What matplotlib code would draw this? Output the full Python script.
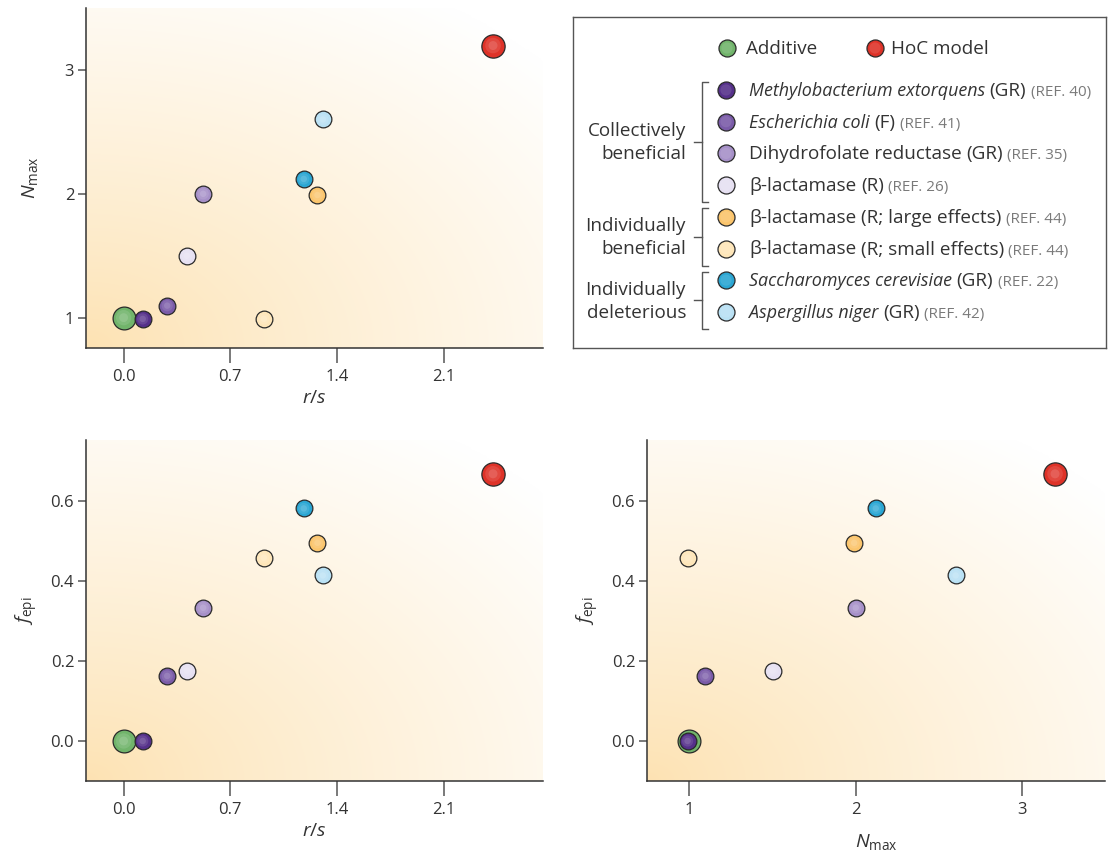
import numpy as np
import matplotlib.pyplot as plt
import matplotlib.colors as mcolors

plt.rcParams['font.family'] = ['Open Sans', 'DejaVu Sans']
plt.rcParams['mathtext.fontset'] = 'custom'
plt.rcParams['mathtext.rm'] = 'Open Sans'
plt.rcParams['mathtext.it'] = 'Open Sans:italic'

# data
species = ['Methylobacterium extorquens', 'Escherichia coli', 'Dihydrofolate reductase',
           'β-lactamase', 'β-lactamase', 'β-lactamase',
           'Saccharomyces cerevisiae', 'Aspergillus niger']
species_italic = [True, True, False, False, False, False, True, True]
conditions = ['(GR)', '(F)', '(GR)', '(R)', '(R; large effects)', '(R; small effects)', '(GR)', '(GR)']
refs = ['(REF. 40)', '(REF. 41)', '(REF. 35)', '(REF. 26)', '(REF. 44)', '(REF. 44)', '(REF. 22)', '(REF. 42)']
colors = ['#55308a', '#7a5ba8', '#a690c8', '#e6e0f2', '#fbc56c', '#fee6b9', '#2aa6d3', '#b9e1f4']

r_s = [0.125, 0.286, 0.522, 0.415, 1.272, 0.920, 1.182, 1.307]
n_max = [0.99, 1.097, 2.0, 1.5, 1.99, 0.99, 2.12, 2.6]
f_epi = [0.0, 0.1625, 0.333, 0.176, 0.495, 0.458, 0.581, 0.4135]

additive = {'r_s': 0.0, 'n_max': 1.0, 'f_epi': 0.0, 'color': '#71b46b'}
hoc = {'r_s': 2.424, 'n_max': 3.197, 'f_epi': 0.6675, 'color': '#de3228'}

groups = [('Collectively', 'beneficial', 0, 3),
          ('Individually', 'beneficial', 4, 5),
          ('Individually', 'deleterious', 6, 7)]

W, H = 1112, 852
fig = plt.figure(figsize=(W / 100, H / 100), dpi=100)
corner = np.array([253, 226, 178]) / 255.0


def px_axes(x0, y0, x1, y1):
    # pixel box (top-left origin) -> figure axes
    return fig.add_axes([x0 / W, 1 - y1 / H, (x1 - x0) / W, (y1 - y0) / H])


def shade_panel(ax):
    gx, gy = np.meshgrid(np.linspace(0, 1, 300), np.linspace(0, 1, 300))
    d = np.sqrt((gx * 0.95) ** 2 + (gy * 1.05) ** 2)
    t = np.clip(d / 1.3, 0, 1) ** 0.85
    img = corner[None, None, :] * (1 - t[..., None]) + t[..., None]
    ax.imshow(img, extent=(0, 1, 0, 1), transform=ax.transAxes, origin='lower',
              aspect='auto', zorder=0, interpolation='bilinear')


def mix(c, amount):
    c = np.array(mcolors.to_rgb(c))
    return tuple(c + (1 - c) * amount)


def dot(ax, x, y, color, size, z):
    ax.scatter([x], [y], s=size, color=color, edgecolors='#2a2a2a', linewidths=0.9, zorder=z)
    ax.scatter([x], [y], s=size * 0.45, color=mix(color, 0.18), alpha=0.6,
               edgecolors='none', zorder=z + 0.1)
    ax.scatter([x], [y], s=size * 0.15, color=mix(color, 0.3), alpha=0.6,
               edgecolors='none', zorder=z + 0.2)


def style_panel(ax, xlim, ylim, xticks, yticks, xfmt, yfmt):
    shade_panel(ax)
    for s in ['top', 'right']:
        ax.spines[s].set_visible(False)
    for s in ['left', 'bottom']:
        ax.spines[s].set_color('#333333')
        ax.spines[s].set_linewidth(1.1)
    ax.set_xticks(xticks)
    ax.set_yticks(yticks)
    ax.set_xticklabels([xfmt.format(v) for v in xticks])
    ax.set_yticklabels([yfmt.format(v) for v in yticks])
    ax.tick_params(axis='x', length=11, width=1.1, color='#555555', labelsize=12,
                   pad=4, labelcolor='#333333')
    ax.tick_params(axis='y', length=5.5, width=1.1, color='#555555', labelsize=12,
                   pad=3, labelcolor='#333333')
    ax.set_xlim(*xlim)
    ax.set_ylim(*ylim)


def plot_panel(ax, xs, ys, ax_key_x, ax_key_y):
    dot(ax, additive[ax_key_x], additive[ax_key_y], additive['color'], 270, 3)
    for i in range(len(xs)):
        dot(ax, xs[i], ys[i], colors[i], 145, 4 + i)
    dot(ax, hoc[ax_key_x], hoc[ax_key_y], hoc['color'], 280, 20)


lab_nmax = r'$N_{\mathrm{max}}$'
lab_fepi = r'$f_{\mathrm{epi}}$'
lab_rs = r'$r/s$'

# top-left: N_max vs r/s
ax1 = px_axes(86, 8, 543, 348)
plot_panel(ax1, r_s, n_max, 'r_s', 'n_max')
style_panel(ax1, (-0.247, 2.752), (0.755, 3.5), [0.0, 0.7, 1.4, 2.1], [1, 2, 3], '{:.1f}', '{:d}')
ax1.set_xlabel(lab_rs, fontsize=14, color='#333333')
ax1.set_ylabel(lab_nmax, fontsize=14, color='#333333')
ax1.xaxis.set_label_coords(0.5, -0.12)
ax1.yaxis.set_label_coords(-0.1, 0.5)

# bottom-left: f_epi vs r/s
ax2 = px_axes(86, 440, 543, 781)
plot_panel(ax2, r_s, f_epi, 'r_s', 'f_epi')
style_panel(ax2, (-0.247, 2.752), (-0.1, 0.752), [0.0, 0.7, 1.4, 2.1], [0.0, 0.2, 0.4, 0.6], '{:.1f}', '{:.1f}')
ax2.set_xlabel(lab_rs, fontsize=14, color='#333333')
ax2.set_ylabel(lab_fepi, fontsize=14, color='#333333')
ax2.xaxis.set_label_coords(0.5, -0.12)
ax2.yaxis.set_label_coords(-0.1, 0.5)

# bottom-right: f_epi vs N_max
ax3 = px_axes(647, 440, 1105, 781)
plot_panel(ax3, n_max, f_epi, 'n_max', 'f_epi')
style_panel(ax3, (0.746, 3.497), (-0.1, 0.752), [1, 2, 3], [0.0, 0.2, 0.4, 0.6], '{:d}', '{:.1f}')
ax3.set_xlabel(lab_nmax, fontsize=14, color='#333333')
ax3.set_ylabel(lab_fepi, fontsize=14, color='#333333')
ax3.xaxis.set_label_coords(0.5, -0.15)
ax3.yaxis.set_label_coords(-0.1, 0.5)

# legend box, drawn in pixel units
lg = px_axes(573, 17, 1106, 348)
lg.set_xlim(573, 1106)
lg.set_ylim(348, 17)
lg.set_xticks([])
lg.set_yticks([])
for s in lg.spines.values():
    s.set_color('#555555')
    s.set_linewidth(1.0)

renderer = fig.canvas.get_renderer()
txt_color = '#333333'
fs = 13.6
fs_it = 12.9
fs_ref = 11.0


def pieces(x, y, parts):
    for text, style, size, col in parts:
        t = lg.text(x, y, text, fontsize=size, style=style, color=col, va='baseline', ha='left')
        x += t.get_window_extent(renderer).width + 4.5


def legend_dot(x, y, color):
    lg.scatter([x], [y], s=150, color=color, edgecolors='#2a2a2a', linewidths=0.9, zorder=3)
    lg.scatter([x], [y], s=65, color=mix(color, 0.18), alpha=0.6, edgecolors='none', zorder=3.1)


legend_dot(727, 48, additive['color'])
pieces(746, 54, [('Additive', 'normal', fs, txt_color)])
legend_dot(875, 48, hoc['color'])
pieces(891, 54, [('HoC model', 'normal', fs, txt_color)])

row_y = [90 + 31.7 * i for i in range(len(species))]
for i in range(len(species)):
    legend_dot(726, row_y[i], colors[i])
    pieces(749, row_y[i] + 6,
           [(species[i], 'italic' if species_italic[i] else 'normal',
             fs_it if species_italic[i] else fs, txt_color),
            (conditions[i], 'normal', fs, txt_color),
            (refs[i], 'normal', fs_ref, '#7a7a7a')])

for line1, line2, i0, i1 in groups:
    top = row_y[i0] - 8.5
    bot = row_y[i1] + 17
    mid = (top + bot) / 2
    lg.plot([708, 702, 702, 708], [top, top, bot, bot], color='#555555', lw=1.0)
    lg.plot([694, 702], [mid, mid], color='#555555', lw=1.0)
    lg.text(686, mid - 11.5 + 6, line1, fontsize=fs, color=txt_color, ha='right', va='baseline')
    lg.text(686, mid + 11.5 + 6, line2, fontsize=fs, color=txt_color, ha='right', va='baseline')

fig.savefig('out.png', dpi=100)
